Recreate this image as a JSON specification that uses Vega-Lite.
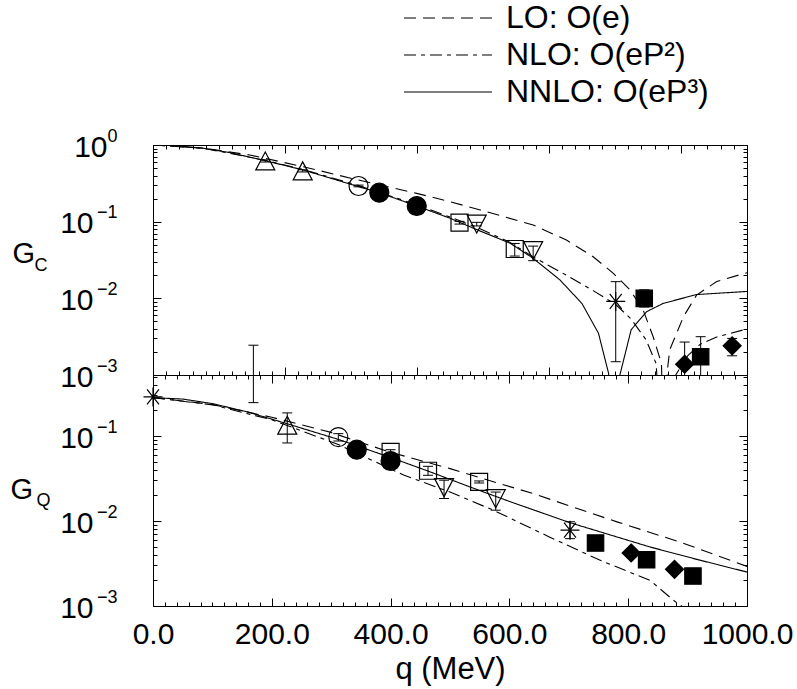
{
  "$schema": "https://vega.github.io/schema/vega-lite/v6.json",
  "background": "white",
  "padding": {"left": 10, "top": 2, "right": 4, "bottom": 4},
  "spacing": 0,
  "bounds": "flush",
  "config": {
    "view": {"stroke": null},
    "font": "Liberation Sans",
    "axis": {"grid": false, "domainColor": "black", "domainWidth": 1, "tickColor": "black", "tickWidth": 1, "labelColor": "black", "titleColor": "black", "labelFont": "Liberation Sans", "titleFont": "Liberation Sans", "titleFontWeight": "normal", "labelFlush": false, "labelOverlap": false, "labelBound": false},
    "legend": {"labelFont": "Liberation Sans", "labelColor": "black", "labelLimit": 0}
  },
  "datasets": {
    "curvesC": [
      {"order": "LO: O(e)", "q": 0, "G": 1.0}, {"order": "LO: O(e)", "q": 85, "G": 0.91}, {"order": "LO: O(e)", "q": 163, "G": 0.741}, {"order": "LO: O(e)", "q": 253, "G": 0.521}, {"order": "LO: O(e)", "q": 346, "G": 0.349}, {"order": "LO: O(e)", "q": 444, "G": 0.234}, {"order": "LO: O(e)", "q": 500, "G": 0.182}, {"order": "LO: O(e)", "q": 551, "G": 0.142}, {"order": "LO: O(e)", "q": 640, "G": 0.0906}, {"order": "LO: O(e)", "q": 696, "G": 0.0575}, {"order": "LO: O(e)", "q": 741, "G": 0.0349}, {"order": "LO: O(e)", "q": 775, "G": 0.0212}, {"order": "LO: O(e)", "q": 803, "G": 0.0129}, {"order": "LO: O(e)", "q": 825, "G": 0.00708}, {"order": "LO: O(e)", "q": 842, "G": 0.00316}, {"order": "LO: O(e)", "q": 856, "G": 0.00141}, {"order": "LO: O(e)", "q": 860, "G": 0.0001}, {"order": "LO: O(e)", "q": 866, "G": 0.00117}, {"order": "LO: O(e)", "q": 870, "G": 0.00214}, {"order": "LO: O(e)", "q": 893, "G": 0.00575}, {"order": "LO: O(e)", "q": 915, "G": 0.011}, {"order": "LO: O(e)", "q": 949, "G": 0.0166}, {"order": "LO: O(e)", "q": 1000, "G": 0.0216},
      {"order": "NLO: O(eP²)", "q": 0, "G": 1.0}, {"order": "NLO: O(eP²)", "q": 85, "G": 0.906}, {"order": "NLO: O(eP²)", "q": 189, "G": 0.631}, {"order": "NLO: O(eP²)", "q": 253, "G": 0.479}, {"order": "NLO: O(eP²)", "q": 346, "G": 0.295}, {"order": "NLO: O(eP²)", "q": 444, "G": 0.166}, {"order": "NLO: O(eP²)", "q": 500, "G": 0.115}, {"order": "NLO: O(eP²)", "q": 547, "G": 0.0832}, {"order": "NLO: O(eP²)", "q": 601, "G": 0.0537}, {"order": "NLO: O(eP²)", "q": 640, "G": 0.0347}, {"order": "NLO: O(eP²)", "q": 696, "G": 0.02}, {"order": "NLO: O(eP²)", "q": 741, "G": 0.0126}, {"order": "NLO: O(eP²)", "q": 779, "G": 0.0083}, {"order": "NLO: O(eP²)", "q": 805, "G": 0.00537}, {"order": "NLO: O(eP²)", "q": 830, "G": 0.00288}, {"order": "NLO: O(eP²)", "q": 847, "G": 0.00141}, {"order": "NLO: O(eP²)", "q": 856, "G": 0.0001}, {"order": "NLO: O(eP²)", "q": 880, "G": 0.001}, {"order": "NLO: O(eP²)", "q": 900, "G": 0.00178}, {"order": "NLO: O(eP²)", "q": 921, "G": 0.00251}, {"order": "NLO: O(eP²)", "q": 950, "G": 0.00316}, {"order": "NLO: O(eP²)", "q": 1000, "G": 0.00398},
      {"order": "NNLO: O(eP³)", "q": 0, "G": 1.0}, {"order": "NNLO: O(eP³)", "q": 40, "G": 0.978}, {"order": "NNLO: O(eP³)", "q": 85, "G": 0.906}, {"order": "NNLO: O(eP³)", "q": 130, "G": 0.794}, {"order": "NNLO: O(eP³)", "q": 189, "G": 0.624}, {"order": "NNLO: O(eP³)", "q": 253, "G": 0.472}, {"order": "NNLO: O(eP³)", "q": 300, "G": 0.367}, {"order": "NNLO: O(eP³)", "q": 346, "G": 0.286}, {"order": "NNLO: O(eP³)", "q": 381, "G": 0.239}, {"order": "NNLO: O(eP³)", "q": 444, "G": 0.16}, {"order": "NNLO: O(eP³)", "q": 500, "G": 0.111}, {"order": "NNLO: O(eP³)", "q": 547, "G": 0.0776}, {"order": "NNLO: O(eP³)", "q": 601, "G": 0.0525}, {"order": "NNLO: O(eP³)", "q": 640, "G": 0.0333}, {"order": "NNLO: O(eP³)", "q": 685, "G": 0.0174}, {"order": "NNLO: O(eP³)", "q": 722, "G": 0.0086}, {"order": "NNLO: O(eP³)", "q": 750, "G": 0.0035}, {"order": "NNLO: O(eP³)", "q": 767, "G": 0.00105}, {"order": "NNLO: O(eP³)", "q": 776, "G": 0.0001}, {"order": "NNLO: O(eP³)", "q": 786, "G": 0.001}, {"order": "NNLO: O(eP³)", "q": 805, "G": 0.0039}, {"order": "NNLO: O(eP³)", "q": 831, "G": 0.0067}, {"order": "NNLO: O(eP³)", "q": 859, "G": 0.0086}, {"order": "NNLO: O(eP³)", "q": 915, "G": 0.0112}, {"order": "NNLO: O(eP³)", "q": 1000, "G": 0.0123}
    ],
    "curvesQ": [
      {"order": "LO: O(e)", "q": 0, "G": 0.283}, {"order": "LO: O(e)", "q": 101, "G": 0.234}, {"order": "LO: O(e)", "q": 200, "G": 0.166}, {"order": "LO: O(e)", "q": 298, "G": 0.111}, {"order": "LO: O(e)", "q": 399, "G": 0.0646}, {"order": "LO: O(e)", "q": 500, "G": 0.0413}, {"order": "LO: O(e)", "q": 640, "G": 0.021}, {"order": "LO: O(e)", "q": 781, "G": 0.00977}, {"order": "LO: O(e)", "q": 887, "G": 0.00566}, {"order": "LO: O(e)", "q": 1000, "G": 0.00292},
      {"order": "NLO: O(eP²)", "q": 0, "G": 0.283}, {"order": "NLO: O(eP²)", "q": 101, "G": 0.232}, {"order": "NLO: O(eP²)", "q": 200, "G": 0.155}, {"order": "NLO: O(eP²)", "q": 312, "G": 0.0794}, {"order": "NLO: O(eP²)", "q": 422, "G": 0.0347}, {"order": "NLO: O(eP²)", "q": 500, "G": 0.0219}, {"order": "NLO: O(eP²)", "q": 573, "G": 0.0134}, {"order": "NLO: O(eP²)", "q": 668, "G": 0.00646}, {"order": "NLO: O(eP²)", "q": 752, "G": 0.00347}, {"order": "NLO: O(eP²)", "q": 837, "G": 0.002}, {"order": "NLO: O(eP²)", "q": 876, "G": 0.00117}, {"order": "NLO: O(eP²)", "q": 900, "G": 0.00089}, {"order": "NLO: O(eP²)", "q": 950, "G": 0.0004}, {"order": "NLO: O(eP²)", "q": 1000, "G": 0.00016},
      {"order": "NNLO: O(eP³)", "q": 0, "G": 0.283}, {"order": "NNLO: O(eP³)", "q": 50, "G": 0.272}, {"order": "NNLO: O(eP³)", "q": 101, "G": 0.24}, {"order": "NNLO: O(eP³)", "q": 160, "G": 0.191}, {"order": "NNLO: O(eP³)", "q": 225, "G": 0.14}, {"order": "NNLO: O(eP³)", "q": 312, "G": 0.0912}, {"order": "NNLO: O(eP³)", "q": 399, "G": 0.0562}, {"order": "NNLO: O(eP³)", "q": 466, "G": 0.038}, {"order": "NNLO: O(eP³)", "q": 534, "G": 0.0251}, {"order": "NNLO: O(eP³)", "q": 600, "G": 0.017}, {"order": "NNLO: O(eP³)", "q": 702, "G": 0.00955}, {"order": "NNLO: O(eP³)", "q": 837, "G": 0.00494}, {"order": "NNLO: O(eP³)", "q": 920, "G": 0.00347}, {"order": "NNLO: O(eP³)", "q": 1000, "G": 0.00251}
    ],
    "pointsC": [
      {"q": 189, "G": 0.62, "lo": 0.6, "hi": 0.64, "marker": "open triangle up"},
      {"q": 252, "G": 0.46, "lo": 0.445, "hi": 0.475, "marker": "open triangle up"},
      {"q": 346, "G": 0.292, "lo": 0.285, "hi": 0.3, "marker": "open circle"},
      {"q": 381, "G": 0.239, "lo": 0.235, "hi": 0.243, "marker": "filled circle"},
      {"q": 444, "G": 0.16, "lo": 0.157, "hi": 0.163, "marker": "filled circle"},
      {"q": 516, "G": 0.097, "lo": 0.093, "hi": 0.101, "marker": "open square"},
      {"q": 545, "G": 0.093, "lo": 0.088, "hi": 0.098, "marker": "open triangle down"},
      {"q": 609, "G": 0.044, "lo": 0.0356, "hi": 0.052, "marker": "open square"},
      {"q": 640, "G": 0.042, "lo": 0.031, "hi": 0.048, "marker": "open triangle down"},
      {"q": 779, "G": 0.0091, "lo": 0.00149, "hi": 0.0165, "marker": "star"},
      {"q": 827, "G": 0.01, "lo": 0.0077, "hi": 0.0129, "marker": "filled square"},
      {"q": 922, "G": 0.00173, "lo": 0.0001, "hi": 0.00316, "marker": "filled square"},
      {"q": 895, "G": 0.00138, "lo": 0.0001, "hi": 0.00269, "marker": "filled diamond"},
      {"q": 975, "G": 0.0024, "lo": 0.00178, "hi": 0.003, "marker": "filled diamond"}
    ],
    "pointsQ": [
      {"q": 0, "G": 0.288, "lo": null, "hi": null, "marker": "star"},
      {"q": 169, "G": null, "lo": 0.247, "hi": 1.17, "marker": "open triangle up"},
      {"q": 226, "G": 0.134, "lo": 0.0828, "hi": 0.187, "marker": "open triangle up"},
      {"q": 312, "G": 0.097, "lo": 0.0873, "hi": 0.1066, "marker": "open circle"},
      {"q": 343, "G": 0.069, "lo": null, "hi": null, "marker": "filled circle"},
      {"q": 400, "G": 0.0508, "lo": null, "hi": null, "marker": "filled circle"},
      {"q": 400, "G": 0.0649, "lo": 0.062, "hi": 0.069, "marker": "open square"},
      {"q": 463, "G": 0.039, "lo": 0.0345, "hi": 0.044, "marker": "open square"},
      {"q": 490, "G": 0.0247, "lo": 0.0184, "hi": 0.0302, "marker": "open triangle down"},
      {"q": 549, "G": 0.0288, "lo": 0.028, "hi": 0.0296, "marker": "open square"},
      {"q": 577, "G": 0.0183, "lo": 0.0134, "hi": 0.0219, "marker": "open triangle down"},
      {"q": 702, "G": 0.0078, "lo": 0.0062, "hi": 0.0098, "marker": "star"},
      {"q": 745, "G": 0.0055, "lo": null, "hi": null, "marker": "filled square"},
      {"q": 831, "G": 0.0035, "lo": null, "hi": null, "marker": "filled square"},
      {"q": 909, "G": 0.00225, "lo": null, "hi": null, "marker": "filled square"},
      {"q": 805, "G": 0.0042, "lo": null, "hi": null, "marker": "filled diamond"},
      {"q": 878, "G": 0.0027, "lo": null, "hi": null, "marker": "filled diamond"}
    ]
  },
  "resolve": {"scale": {"strokeDash": "shared"}},
  "vconcat": [
    {
      "width": 594,
      "height": 230,
      "resolve": {"axis": {"x": "independent", "y": "independent"}},
      "layer": [
        {
          "data": {"name": "curvesC"},
          "mark": {"type": "line", "clip": true, "color": "black", "strokeWidth": 1.1},
          "encoding": {
            "x": {"field": "q", "type": "quantitative", "scale": {"domain": [0, 1000], "nice": false, "zero": false},
              "axis": {"orient": "top", "labels": false, "title": null, "values": [0, 22.2222, 44.4444, 66.6667, 88.8889, 111.1111, 133.3333, 155.5556, 177.7778, 200, 222.2222, 244.4444, 266.6667, 288.8889, 311.1111, 333.3333, 355.5556, 377.7778, 400, 422.2222, 444.4444, 466.6667, 488.8889, 511.1111, 533.3333, 555.5556, 577.7778, 600, 622.2222, 644.4444, 666.6667, 688.8889, 711.1111, 733.3333, 755.5556, 777.7778, 800, 822.2222, 844.4444, 866.6667, 888.8889, 911.1111, 933.3333, 955.5556, 977.7778, 1000],
                "tickSize": {"condition": {"test": "abs(datum.value/222.2222 - round(datum.value/222.2222)) < 0.001", "value": -8}, "value": -4}}},
            "y": {"field": "G", "type": "quantitative", "scale": {"type": "log", "domain": [0.001, 1], "nice": false},
              "axis": {"orient": "left", "labels": false, "title": null, "values": [0.001, 0.002, 0.003, 0.004, 0.005, 0.006, 0.007, 0.008, 0.009, 0.01, 0.02, 0.03, 0.04, 0.05, 0.06, 0.07, 0.08, 0.09, 0.1, 0.2, 0.3, 0.4, 0.5, 0.6, 0.7, 0.8, 0.9, 1],
                "tickSize": {"condition": {"test": "abs(log(datum.value)/LN10 - round(log(datum.value)/LN10)) < 0.001", "value": -8}, "value": -4}}},
            "strokeDash": {"field": "order", "type": "nominal",
              "scale": {"domain": ["LO: O(e)", "NLO: O(eP²)", "NNLO: O(eP³)"], "range": [[12, 7], [12, 5, 4, 5], [1, 0]]},
              "legend": {"orient": "none", "legendX": 279, "legendY": -143, "title": null, "labelFontSize": 32, "labelLimit": 0, "symbolType": "M-4,0L4,0", "symbolSize": 484, "symbolStrokeWidth": 1.1, "symbolStrokeColor": "black", "symbolFillColor": "transparent", "labelOffset": 42, "rowPadding": 5}}
          }
        },
        {
          "data": {"name": "pointsC"},
          "transform": [{"filter": "isValid(datum.lo)"}],
          "mark": {"type": "rule", "clip": true, "color": "black", "strokeWidth": 1},
          "encoding": {
            "x": {"field": "q", "type": "quantitative", "scale": {"domain": [0, 1000], "nice": false, "zero": false},
              "axis": {"orient": "bottom", "labels": false, "title": null, "values": [0, 22.2222, 44.4444, 66.6667, 88.8889, 111.1111, 133.3333, 155.5556, 177.7778, 200, 222.2222, 244.4444, 266.6667, 288.8889, 311.1111, 333.3333, 355.5556, 377.7778, 400, 422.2222, 444.4444, 466.6667, 488.8889, 511.1111, 533.3333, 555.5556, 577.7778, 600, 622.2222, 644.4444, 666.6667, 688.8889, 711.1111, 733.3333, 755.5556, 777.7778, 800, 822.2222, 844.4444, 866.6667, 888.8889, 911.1111, 933.3333, 955.5556, 977.7778, 1000],
                "tickSize": {"condition": {"test": "abs(datum.value/222.2222 - round(datum.value/222.2222)) < 0.001", "value": -8}, "value": -4}}},
            "y": {"field": "lo", "type": "quantitative", "scale": {"type": "log", "domain": [0.001, 1], "nice": false},
              "axis": {"orient": "left", "values": [0.001, 0.01, 0.1, 1], "ticks": false, "domain": false, "labelExpr": "'10'", "labelFontSize": 30, "labelAlign": "right", "labelBaseline": "alphabetic", "labelOffset": 11,
                "labelPadding": {"condition": {"test": "datum.value == 1", "value": 46}, "value": 60},
                "title": "G", "titleFontSize": 29, "titleAngle": 0, "titleAlign": "left", "titleBaseline": "alphabetic", "titleX": -141, "titleY": 117}},
            "y2": {"field": "hi"}
          }
        },
        {
          "data": {"name": "pointsC"},
          "transform": [{"filter": "isValid(datum.lo)"}],
          "mark": {"type": "tick", "orient": "horizontal", "clip": true, "color": "black", "size": 10, "thickness": 1, "opacity": 1},
          "encoding": {
            "x": {"field": "q", "type": "quantitative", "scale": {"domain": [0, 1000], "nice": false, "zero": false}, "axis": null},
            "y": {"field": "lo", "type": "quantitative", "scale": {"type": "log", "domain": [0.001, 1], "nice": false},
              "axis": {"orient": "left", "values": [0.001, 0.01, 0.1, 1], "ticks": false, "domain": false, "labelExpr": "datum.value == 1 ? '0' : '−' + round(-log(datum.value)/LN10)", "labelFontSize": 18, "labelAlign": "right", "labelBaseline": "alphabetic", "labelOffset": -4, "labelPadding": 36,
                "title": "C", "titleFontSize": 18, "titleAngle": 0, "titleAlign": "left", "titleBaseline": "alphabetic", "titleX": -119, "titleY": 125}}
          }
        },
        {
          "data": {"name": "pointsC"},
          "transform": [{"filter": "isValid(datum.hi)"}],
          "mark": {"type": "tick", "orient": "horizontal", "clip": true, "color": "black", "size": 10, "thickness": 1, "opacity": 1},
          "encoding": {
            "x": {"field": "q", "type": "quantitative", "scale": {"domain": [0, 1000], "nice": false, "zero": false}, "axis": null},
            "y": {"field": "hi", "type": "quantitative", "scale": {"type": "log", "domain": [0.001, 1], "nice": false},
              "axis": {"orient": "right", "labels": false, "title": null, "values": [0.001, 0.002, 0.003, 0.004, 0.005, 0.006, 0.007, 0.008, 0.009, 0.01, 0.02, 0.03, 0.04, 0.05, 0.06, 0.07, 0.08, 0.09, 0.1, 0.2, 0.3, 0.4, 0.5, 0.6, 0.7, 0.8, 0.9, 1],
                "tickSize": {"condition": {"test": "abs(log(datum.value)/LN10 - round(log(datum.value)/LN10)) < 0.001", "value": -8}, "value": -4}}}
          }
        },
        {
          "data": {"name": "pointsC"},
          "transform": [{"filter": "isValid(datum.G)"}],
          "mark": {"type": "point", "filled": true, "stroke": "black", "strokeWidth": 1.2, "size": 400, "opacity": 1},
          "encoding": {
            "x": {"field": "q", "type": "quantitative", "scale": {"domain": [0, 1000], "nice": false, "zero": false}, "axis": null},
            "y": {"field": "G", "type": "quantitative", "scale": {"type": "log", "domain": [0.001, 1], "nice": false}, "axis": null},
            "shape": {"field": "marker", "type": "nominal", "legend": null,
              "scale": {"domain": ["open triangle up", "open circle", "filled circle", "open square", "open triangle down", "star", "filled square", "filled diamond"],
                "range": ["M0,-0.9L0.95,0.9L-0.95,0.9Z", "M0.95,0A0.95,0.95,0,1,1,-0.95,0A0.95,0.95,0,1,1,0.95,0Z", "M0.95,0A0.95,0.95,0,1,1,-0.95,0A0.95,0.95,0,1,1,0.95,0Z", "M-0.85,-0.85H0.85V0.85H-0.85Z", "M0,0.9L0.95,-0.9L-0.95,-0.9Z", "M-0.95,0H0.95M-0.6,-0.75L0.6,0.75M-0.6,0.75L0.6,-0.75M0,-0.95V0.95", "M-0.82,-0.82H0.82V0.82H-0.82Z", "M0,-0.9L0.9,0L0,0.9L-0.9,0Z"]}},
            "fill": {"field": "marker", "type": "nominal", "legend": null,
              "scale": {"domain": ["open triangle up", "open circle", "filled circle", "open square", "open triangle down", "star", "filled square", "filled diamond"],
                "range": ["transparent", "transparent", "black", "transparent", "transparent", "transparent", "black", "black"]}}
          }
        }
      ]
    },
    {
      "width": 594,
      "height": 231,
      "resolve": {"axis": {"x": "independent", "y": "independent"}},
      "layer": [
        {
          "data": {"name": "curvesQ"},
          "mark": {"type": "line", "clip": true, "color": "black", "strokeWidth": 1.1},
          "encoding": {
            "x": {"field": "q", "type": "quantitative", "scale": {"domain": [0, 1000], "nice": false, "zero": false},
              "axis": {"orient": "bottom", "labels": false, "title": null, "values": [0, 20, 40, 60, 80, 100, 120, 140, 160, 180, 200, 220, 240, 260, 280, 300, 320, 340, 360, 380, 400, 420, 440, 460, 480, 500, 520, 540, 560, 580, 600, 620, 640, 660, 680, 700, 720, 740, 760, 780, 800, 820, 840, 860, 880, 900, 920, 940, 960, 980, 1000],
                "tickSize": {"condition": {"test": "datum.value % 200 == 0", "value": -8}, "value": -4}}},
            "y": {"field": "G", "type": "quantitative", "scale": {"type": "log", "domain": [0.001, 0.522], "nice": false},
              "axis": {"orient": "left", "labels": false, "title": null, "values": [0.001, 0.002, 0.003, 0.004, 0.005, 0.006, 0.007, 0.008, 0.009, 0.01, 0.02, 0.03, 0.04, 0.05, 0.06, 0.07, 0.08, 0.09, 0.1, 0.2, 0.3, 0.4, 0.5],
                "tickSize": {"condition": {"test": "abs(log(datum.value)/LN10 - round(log(datum.value)/LN10)) < 0.001", "value": -8}, "value": -4}}},
            "strokeDash": {"field": "order", "type": "nominal",
              "scale": {"domain": ["LO: O(e)", "NLO: O(eP²)", "NNLO: O(eP³)"], "range": [[12, 7], [12, 5, 4, 5], [1, 0]]}}
          }
        },
        {
          "data": {"name": "pointsQ"},
          "transform": [{"filter": "isValid(datum.lo)"}],
          "mark": {"type": "rule", "clip": false, "color": "black", "strokeWidth": 1},
          "encoding": {
            "x": {"field": "q", "type": "quantitative", "scale": {"domain": [0, 1000], "nice": false, "zero": false},
              "axis": {"orient": "top", "labels": false, "title": null, "values": [0, 20, 40, 60, 80, 100, 120, 140, 160, 180, 200, 220, 240, 260, 280, 300, 320, 340, 360, 380, 400, 420, 440, 460, 480, 500, 520, 540, 560, 580, 600, 620, 640, 660, 680, 700, 720, 740, 760, 780, 800, 820, 840, 860, 880, 900, 920, 940, 960, 980, 1000],
                "tickSize": {"condition": {"test": "datum.value % 200 == 0", "value": -8}, "value": -4}}},
            "y": {"field": "lo", "type": "quantitative", "scale": {"type": "log", "domain": [0.001, 0.522], "nice": false},
              "axis": {"orient": "left", "values": [0.001, 0.01, 0.1], "ticks": false, "domain": false, "labelExpr": "'10'", "labelFontSize": 30, "labelAlign": "right", "labelBaseline": "alphabetic", "labelOffset": 11, "labelPadding": 60,
                "title": "G", "titleFontSize": 29, "titleAngle": 0, "titleAlign": "left", "titleBaseline": "alphabetic", "titleX": -143, "titleY": 123}},
            "y2": {"field": "hi"}
          }
        },
        {
          "data": {"name": "pointsQ"},
          "transform": [{"filter": "isValid(datum.lo)"}],
          "mark": {"type": "tick", "orient": "horizontal", "clip": false, "color": "black", "size": 10, "thickness": 1, "opacity": 1},
          "encoding": {
            "x": {"field": "q", "type": "quantitative", "scale": {"domain": [0, 1000], "nice": false, "zero": false},
              "axis": {"orient": "bottom", "values": [0, 200, 400, 600, 800, 1000], "ticks": false, "domain": false, "format": ".1f", "labelFontSize": 30, "labelBaseline": "alphabetic", "labelPadding": 37,
                "title": "q (MeV)", "titleFontSize": 31, "titleAlign": "center", "titleBaseline": "alphabetic", "titleX": 297, "titleY": 72}},
            "y": {"field": "lo", "type": "quantitative", "scale": {"type": "log", "domain": [0.001, 0.522], "nice": false},
              "axis": {"orient": "left", "values": [0.001, 0.01, 0.1], "ticks": false, "domain": false, "labelExpr": "'−' + round(-log(datum.value)/LN10)", "labelFontSize": 18, "labelAlign": "right", "labelBaseline": "alphabetic", "labelOffset": -4, "labelPadding": 36,
                "title": "Q", "titleFontSize": 18, "titleAngle": 0, "titleAlign": "left", "titleBaseline": "alphabetic", "titleX": -117, "titleY": 130}}
          }
        },
        {
          "data": {"name": "pointsQ"},
          "transform": [{"filter": "isValid(datum.hi)"}],
          "mark": {"type": "tick", "orient": "horizontal", "clip": false, "color": "black", "size": 10, "thickness": 1, "opacity": 1},
          "encoding": {
            "x": {"field": "q", "type": "quantitative", "scale": {"domain": [0, 1000], "nice": false, "zero": false}, "axis": null},
            "y": {"field": "hi", "type": "quantitative", "scale": {"type": "log", "domain": [0.001, 0.522], "nice": false},
              "axis": {"orient": "right", "labels": false, "title": null, "values": [0.001, 0.002, 0.003, 0.004, 0.005, 0.006, 0.007, 0.008, 0.009, 0.01, 0.02, 0.03, 0.04, 0.05, 0.06, 0.07, 0.08, 0.09, 0.1, 0.2, 0.3, 0.4, 0.5],
                "tickSize": {"condition": {"test": "abs(log(datum.value)/LN10 - round(log(datum.value)/LN10)) < 0.001", "value": -8}, "value": -4}}}
          }
        },
        {
          "data": {"name": "pointsQ"},
          "transform": [{"filter": "isValid(datum.G)"}],
          "mark": {"type": "point", "filled": true, "stroke": "black", "strokeWidth": 1.2, "size": 400, "opacity": 1},
          "encoding": {
            "x": {"field": "q", "type": "quantitative", "scale": {"domain": [0, 1000], "nice": false, "zero": false}, "axis": null},
            "y": {"field": "G", "type": "quantitative", "scale": {"type": "log", "domain": [0.001, 0.522], "nice": false}, "axis": null},
            "shape": {"field": "marker", "type": "nominal", "legend": null,
              "scale": {"domain": ["open triangle up", "open circle", "filled circle", "open square", "open triangle down", "star", "filled square", "filled diamond"],
                "range": ["M0,-0.9L0.95,0.9L-0.95,0.9Z", "M0.95,0A0.95,0.95,0,1,1,-0.95,0A0.95,0.95,0,1,1,0.95,0Z", "M0.95,0A0.95,0.95,0,1,1,-0.95,0A0.95,0.95,0,1,1,0.95,0Z", "M-0.85,-0.85H0.85V0.85H-0.85Z", "M0,0.9L0.95,-0.9L-0.95,-0.9Z", "M-0.95,0H0.95M-0.6,-0.75L0.6,0.75M-0.6,0.75L0.6,-0.75M0,-0.95V0.95", "M-0.82,-0.82H0.82V0.82H-0.82Z", "M0,-0.9L0.9,0L0,0.9L-0.9,0Z"]}},
            "fill": {"field": "marker", "type": "nominal", "legend": null,
              "scale": {"domain": ["open triangle up", "open circle", "filled circle", "open square", "open triangle down", "star", "filled square", "filled diamond"],
                "range": ["transparent", "transparent", "black", "transparent", "transparent", "transparent", "black", "black"]}}
          }
        }
      ]
    }
  ]
}
